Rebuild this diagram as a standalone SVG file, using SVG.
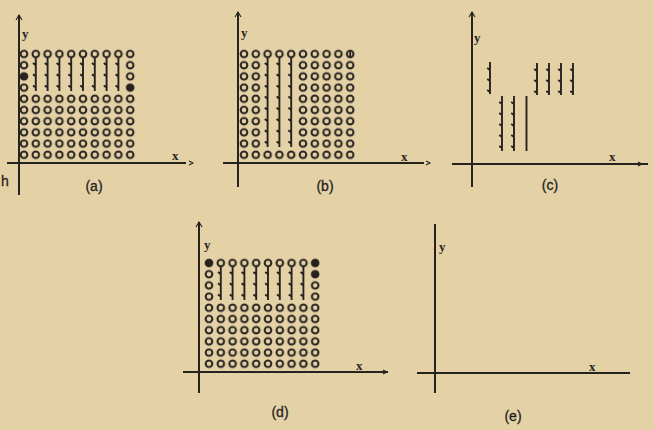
<svg xmlns="http://www.w3.org/2000/svg" xmlns:xlink="http://www.w3.org/1999/xlink" width="654" height="430" viewBox="0 0 654 430">
<style>
.ax{stroke:#26231f;stroke-width:2;fill:none}
.ah{stroke:#26231f;stroke-width:1.1;fill:none}
.st{stroke:#26231f;stroke-width:1.9;fill:none}
.fl{fill:#26231f}
.lb{font-family:"Liberation Sans",Arial,sans-serif;font-size:14px;fill:#26231f;stroke:#26231f;stroke-width:0.3;text-anchor:middle}
.v{font-family:"Liberation Serif","Times New Roman",serif;font-size:13px;font-weight:bold;fill:#26231f}
</style>
<defs>
<pattern id="grid" patternUnits="userSpaceOnUse" width="11.8" height="11.2">
<circle cx="5.9" cy="5.6" r="3.3" fill="none" stroke="#26231f" stroke-width="2"/>
</pattern>
<path id="stem4" class="st" d="M0,3.3V37M-2.8,9L0,11.2M-2.8,20.2L0,22.4M-2.8,31.4L0,33.6"/>
<path id="stem9" class="st" d="M0,3.3V93M-2.8,9L0,11.2M-2.8,20.2L0,22.4M-2.8,31.4L0,33.6M-2.8,42.6L0,44.8M-2.8,53.8L0,56M-2.8,65L0,67.2M-2.8,76.2L0,78.4M-2.8,87.4L0,89.6"/>
<path id="stemC" class="st" d="M0,0V32M-2.8,6L0,8M-2.8,17L0,19M-2.8,28L0,30"/>
<path id="stemL" class="st" d="M0,0V55M-2.8,6L0,8M-2.8,17L0,19M-2.8,28L0,30M-2.8,39L0,41M-2.8,50L0,52"/>
</defs>
<rect width="654" height="430" fill="#e4d1a6"/>

<g id="panel-a">
<path class="ax" d="M19,15V195M7,163H186"/>
<path class="ah" d="M16,20L19,15L22,20M189,161L193,163L189,165"/>
<text class="v" x="22" y="38">y</text>
<text class="v" x="172" y="160">x</text>
<text class="lb" x="5" y="186">h</text>
<text class="lb" x="94" y="191">(a)</text>
<g transform="translate(18.1,48.4)">
<rect x="0" y="0" width="118" height="11.2" fill="url(#grid)"/>
<rect x="0" y="11.2" width="11.8" height="33.6" fill="url(#grid)"/>
<rect x="106.2" y="11.2" width="11.8" height="33.6" fill="url(#grid)"/>
<rect x="0" y="44.8" width="118" height="67.2" fill="url(#grid)"/>
<circle class="fl" cx="5.9" cy="28" r="3.3"/>
<circle class="fl" cx="112.1" cy="39.2" r="3.3"/>
<use xlink:href="#stem4" x="17.7" y="5.6"/>
<use xlink:href="#stem4" x="29.5" y="5.6"/>
<use xlink:href="#stem4" x="41.3" y="5.6"/>
<use xlink:href="#stem4" x="53.1" y="5.6"/>
<use xlink:href="#stem4" x="64.9" y="5.6"/>
<use xlink:href="#stem4" x="76.7" y="5.6"/>
<use xlink:href="#stem4" x="88.5" y="5.6"/>
<use xlink:href="#stem4" x="100.3" y="5.6"/>
</g>
</g>

<g id="panel-b">
<path class="ax" d="M238,12V187M223,163H424"/>
<path class="ah" d="M235,17L238,12L241,17M426,161L430,163L426,165"/>
<text class="v" x="241" y="37">y</text>
<text class="v" x="401" y="161">x</text>
<text class="lb" x="325" y="191">(b)</text>
<g transform="translate(238.1,48.4)">
<rect x="0" y="0" width="118" height="11.2" fill="url(#grid)"/>
<rect x="0" y="11.2" width="23.6" height="89.6" fill="url(#grid)"/>
<rect x="59" y="11.2" width="59" height="89.6" fill="url(#grid)"/>
<rect x="0" y="100.8" width="118" height="11.2" fill="url(#grid)"/>
<use xlink:href="#stem9" x="29.5" y="5.6"/>
<use xlink:href="#stem9" x="41.3" y="5.6"/>
<use xlink:href="#stem9" x="53.1" y="5.6"/>
<path class="st" d="M112.1,2V9"/>
</g>
</g>

<g id="panel-c">
<path class="ax" d="M472,12V187M452,164H648"/>
<path class="ah" d="M469,17L472,12L475,17M638,162L642,164L638,166"/>
<text class="v" x="474" y="42">y</text>
<text class="v" x="609" y="161">x</text>
<text class="lb" x="550" y="190">(c)</text>
<use xlink:href="#stemC" x="490" y="62"/>
<use xlink:href="#stemL" x="502" y="96"/>
<use xlink:href="#stemL" x="514" y="96"/>
<path class="st" d="M526.5,96V151"/>
<use xlink:href="#stemC" x="537" y="63"/>
<use xlink:href="#stemC" x="549" y="63"/>
<use xlink:href="#stemC" x="561" y="63"/>
<use xlink:href="#stemC" x="573" y="63"/>
</g>

<g id="panel-d">
<path class="ax" d="M199,222V393M183,372H388"/>
<path class="ah" d="M196,227L199,222L202,227M383,370L387,372L383,374"/>
<text class="v" x="204" y="249">y</text>
<text class="v" x="356" y="370">x</text>
<text class="lb" x="280" y="417">(d)</text>
<g transform="translate(203.1,257.4)">
<rect x="0" y="0" width="118" height="11.2" fill="url(#grid)"/>
<rect x="0" y="11.2" width="11.8" height="33.6" fill="url(#grid)"/>
<rect x="106.2" y="11.2" width="11.8" height="33.6" fill="url(#grid)"/>
<rect x="0" y="44.8" width="118" height="67.2" fill="url(#grid)"/>
<circle class="fl" cx="5.9" cy="5.6" r="3.5"/>
<circle class="fl" cx="112.1" cy="5.6" r="3.5"/>
<circle class="fl" cx="112.1" cy="16.8" r="3.3"/>
<use xlink:href="#stem4" x="17.7" y="5.6"/>
<use xlink:href="#stem4" x="29.5" y="5.6"/>
<use xlink:href="#stem4" x="41.3" y="5.6"/>
<use xlink:href="#stem4" x="53.1" y="5.6"/>
<use xlink:href="#stem4" x="64.9" y="5.6"/>
<use xlink:href="#stem4" x="76.7" y="5.6"/>
<use xlink:href="#stem4" x="88.5" y="5.6"/>
<use xlink:href="#stem4" x="100.3" y="5.6"/>
</g>
</g>

<g id="panel-e">
<path class="ax" d="M435,224V393M417,373H630"/>
<text class="v" x="439" y="251">y</text>
<text class="v" x="589" y="371">x</text>
<text class="lb" x="513" y="421">(e)</text>
</g>
</svg>
